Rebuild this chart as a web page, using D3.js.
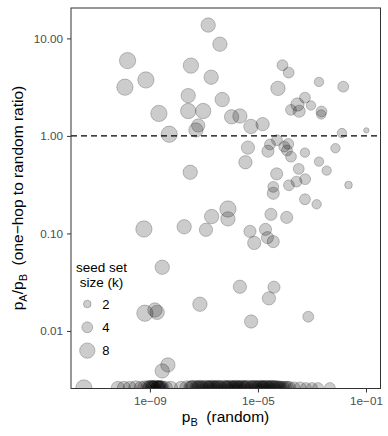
<!DOCTYPE html>
<html>
<head>
<meta charset="utf-8">
<script src="https://cdn.jsdelivr.net/npm/d3@7"></script>
<style>
  body { margin: 0; background: #fff; }
  text { font-family: "Liberation Sans", Arial, sans-serif; white-space: pre; }
</style>
</head>
<body>
<svg id="chart" width="388" height="436"></svg>
<script>
// points with a non-zero one-hop / random ratio
const pB = [
  1.44e-7, 3.9e-7, 1.49e-10, 3.3e-8, 7.1e-10, 1.19e-10, 1.86e-7, 2.62e-8, 4.76e-7, 2.15e-9,
  2.62e-8, 9.4e-8, 1.06e-6, 6.15e-8, 5.06e-8, 2.15e-6, 5.5e-6, 1.49e-5, 5.19e-9, 3.11e-8,
  8.07e-5, 1.37e-4, 5.5e-5, 1.82e-3, 1.44e-2, 5.5e-4, 2.9e-4, 1.67e-4, 3.36e-4, 9.18e-4,
  2.25e-3, 2.2e-3, 1.29e-2, 1.03e-1, 4.27e-6, 3.44e-6, 2.34e-5, 2.78e-5, 5.06e-5, 9.42e-5,
  1.33e-4, 1.19e-4, 1.67e-4, 5.5e-4, 7.41e-3, 1.82e-3, 3.5e-3, 3.24e-4, 4.93e-5, 5.6e-4,
  2.67e-4, 1.41e-4, 3.69e-5, 3.69e-5, 2.25e-2, 5.5e-4, 1.49e-3, 7.74e-7, 1.93e-7, 7.74e-7,
  3.03e-5, 1.16e-4, 5.06e-6, 1.9e-5, 2.25e-5, 3.69e-5, 7.29e-6, 1.19e-7, 1.86e-8, 6.0e-10,
  2.86e-9, 2.15e-6, 3.92e-5, 2.55e-5, 7.11e-8, 5.6e-6, 7.29e-4, 6.53e-10, 1.53e-9, 1.86e-9,
  4.64e-9, 2.86e-9
];
const ratio = [
  13.7, 8.72, 5.92, 5.26, 3.75, 3.16, 4.0, 2.59, 2.36, 1.70,
  1.80, 1.80, 1.57, 1.28, 1.15, 1.60, 1.25, 1.32, 1.04, 0.424,
  5.31, 4.46, 3.07, 3.58, 3.2, 2.47, 2.10, 1.85, 1.79, 2.05,
  1.78, 1.66, 1.07, 1.14, 0.759, 0.537, 0.697, 0.818, 0.903, 0.777,
  0.828, 0.710, 0.613, 0.674, 0.748, 0.545, 0.441, 0.459, 0.408, 0.360,
  0.340, 0.312, 0.300, 0.258, 0.314, 0.224, 0.199, 0.178, 0.149, 0.141,
  0.157, 0.146, 0.105, 0.110, 0.0906, 0.0824, 0.0799, 0.109, 0.117, 0.111,
  0.045, 0.0284, 0.0281, 0.0216, 0.0188, 0.0125, 0.0140, 0.0152, 0.0164, 0.0155,
  0.00448, 0.00389
];
const seedK = [
  7, 7, 9, 8, 9, 9, 7, 7, 7, 9,
  8, 8, 7, 6, 7, 7, 7, 6, 9, 7,
  4, 4, 7, 3, 4, 4, 6, 4, 5, 3,
  4, 3, 3, 1, 6, 6, 5, 4, 4, 4,
  4, 4, 4, 3, 3, 3, 3, 4, 5, 4,
  4, 4, 4, 5, 2, 4, 3, 9, 7, 7,
  5, 5, 5, 5, 5, 5, 6, 6, 7, 9,
  7, 6, 5, 6, 7, 6, 4, 9, 7, 7,
  7, 7
];

// points whose ratio is zero (drawn on the bottom edge)
const zeroPB = [
  3.6e-12, 6.5e-11, 1.09e-10, 1.8e-10, 3.0e-10, 4.6e-10, 6.5e-10, 8.4e-10, 1.09e-9, 1.29e-9,
  1.67e-9, 2.15e-9, 2.78e-9, 3.9e-9, 6.0e-9, 1.41e-8, 2.34e-8, 3.3e-8, 4.27e-8, 5.5e-8,
  7.1e-8, 9.2e-8, 1.19e-7, 1.53e-7, 1.98e-7, 2.55e-7, 3.3e-7, 4.27e-7, 5.5e-7, 7.1e-7,
  9.2e-7, 1.19e-6, 1.53e-6, 1.98e-6, 2.55e-6, 3.3e-6, 4.27e-6, 5.5e-6, 7.1e-6, 9.2e-6,
  1.19e-5, 1.53e-5, 1.98e-5, 2.55e-5, 3.3e-5, 4.27e-5, 5.5e-5, 7.1e-5, 1.0e-4, 1.41e-4,
  2.15e-4, 3.6e-4, 6.0e-4, 1.0e-3, 1.67e-3, 4.6e-3, 1.2e-9, 1.9e-9, 2.5e-9, 6.2e-8,
  1.7e-7, 2.9e-7, 6.3e-7, 1.4e-6, 2.9e-6, 6.3e-6, 1.4e-5, 2.9e-5, 6.3e-5, 1.0e-9,
  1.4e-9, 2.0e-9, 2.4e-9, 3.6e-8, 8.0e-8, 1.3e-7, 2.2e-7, 3.7e-7, 8.0e-7, 1.1e-6,
  1.7e-6, 2.2e-6, 3.7e-6, 8.0e-6, 1.1e-5, 1.7e-5, 2.2e-5, 3.7e-5, 4.8e-5, 8.4e-5,
  1.2e-4
];
const zeroK = [
  9, 6, 6, 6, 7, 6, 7, 7, 8, 7,
  8, 7, 7, 6, 6, 6, 7, 7, 8, 7,
  8, 7, 8, 7, 8, 7, 8, 7, 8, 7,
  8, 7, 8, 7, 8, 7, 8, 7, 8, 7,
  8, 7, 8, 7, 8, 7, 7, 6, 6, 6,
  5, 5, 4, 4, 4, 4, 7, 7, 7, 7,
  7, 7, 7, 7, 7, 7, 7, 7, 6, 7,
  7, 7, 7, 7, 7, 7, 7, 7, 7, 7,
  7, 7, 7, 7, 7, 7, 7, 7, 7, 6,
  6
];

const xTicks = [1e-9, 1e-5, 1e-1];
const yTicks = [0.01, 0.1, 1, 10];
const legendK = [2, 4, 8];

const width = 388, height = 436;
const margin = { top: 8, right: 8, bottom: 48, left: 71 };
const panelL = margin.left, panelR = width - margin.right;
const panelT = margin.top, panelB = height - margin.bottom;

const svg = d3.select("#chart");

const x = d3.scaleLog().domain([1.2e-12, 0.33]).range([panelL, panelR]);
const y = d3.scaleLog().domain([0.0026, 20.5]).range([panelB, panelT]);
const r = d3.scaleSqrt().domain([0, 10]).range([0, 8.6]);

const fillCol = "rgba(0,0,0,0.2)";
const strokeCol = "rgba(0,0,0,0.22)";

svg.append("defs").append("clipPath").attr("id", "panel")
  .append("rect")
  .attr("x", panelL).attr("y", panelT)
  .attr("width", panelR - panelL).attr("height", panelB - panelT);

const plot = svg.append("g").attr("clip-path", "url(#panel)");

// zero-ratio points sit on the lower edge of the panel
plot.selectAll(".zero")
  .data(zeroPB.map((v, i) => ({ p: v, k: zeroK[i] })))
  .enter().append("circle")
  .attr("class", "zero")
  .attr("cx", d => x(d.p))
  .attr("cy", y.range()[0])
  .attr("r", d => r(d.k))
  .style("fill", fillCol)
  .style("stroke", strokeCol);

plot.selectAll(".dot")
  .data(pB.map((v, i) => ({ p: v, q: ratio[i], k: seedK[i] })))
  .enter().append("circle")
  .attr("class", "dot")
  .attr("cx", d => x(d.p))
  .attr("cy", d => y(d.q))
  .attr("r", d => r(d.k))
  .style("fill", fillCol)
  .style("stroke", strokeCol);

// reference line at ratio = 1
svg.append("line")
  .attr("x1", panelL).attr("x2", panelR)
  .attr("y1", y(1)).attr("y2", y(1))
  .style("stroke", "#000")
  .style("stroke-width", 1.4)
  .style("stroke-dasharray", "6,4");

// panel border
svg.append("rect")
  .attr("x", panelL).attr("y", panelT)
  .attr("width", panelR - panelL + 0.5).attr("height", panelB - panelT + 0.5)
  .style("fill", "none")
  .style("stroke", "#333")
  .style("stroke-width", 1);

// axes
const fmtX = d => "1e\u2212" + String(-Math.round(Math.log10(d))).padStart(2, "0");

const gx = svg.append("g")
  .attr("transform", `translate(0,${panelB + 0.5})`)
  .call(d3.axisBottom(x).tickValues(xTicks).tickFormat(fmtX).tickSize(4).tickPadding(4));

const gy = svg.append("g")
  .attr("transform", `translate(${panelL},0)`)
  .call(d3.axisLeft(y).tickValues(yTicks).tickFormat(d3.format(".2f")).tickSize(4).tickPadding(4));

[gx, gy].forEach(g => {
  g.select(".domain").remove();
  g.selectAll(".tick line").style("stroke", "#333");
  g.selectAll(".tick text")
    .style("fill", "#4d4d4d")
    .style("font-size", "11.7px")
    .style("font-family", "'Liberation Sans', Arial, sans-serif");
});

// axis titles
const xt = svg.append("text")
  .attr("x", (panelL + panelR) / 2)
  .attr("y", 422)
  .attr("text-anchor", "middle")
  .style("font-size", "15.5px");
xt.append("tspan").text("p");
xt.append("tspan").attr("dy", 4).style("font-size", "11px").text("B");
xt.append("tspan").attr("dy", -4).text("  (random)");

const yt = svg.append("text")
  .attr("transform", `translate(23,${(panelT + panelB) / 2}) rotate(-90)`)
  .attr("text-anchor", "middle")
  .style("font-size", "15.5px");
yt.append("tspan").text("p");
yt.append("tspan").attr("dy", 4).style("font-size", "11px").text("A");
yt.append("tspan").attr("dy", -4).text("/p");
yt.append("tspan").attr("dy", 4).style("font-size", "11px").text("B");
yt.append("tspan").attr("dy", -4).text("  (one\u2212hop to random ratio)");

// legend
const legend = svg.append("g").attr("transform", "translate(101.5,272)");
legend.selectAll(".ltitle")
  .data(["seed set", "size (k)"])
  .enter().append("text")
  .attr("class", "ltitle")
  .attr("y", (d, i) => i * 14.5)
  .attr("text-anchor", "middle")
  .style("font-size", "13.5px")
  .text(d => d);

const keys = legend.selectAll(".key")
  .data(legendK)
  .enter().append("g")
  .attr("class", "key")
  .attr("transform", (d, i) => `translate(-14.2,${32 + i * 23.3})`);
keys.append("circle")
  .attr("r", d => r(d))
  .style("fill", fillCol)
  .style("stroke", strokeCol);
keys.append("text")
  .attr("x", 15)
  .attr("dy", "0.35em")
  .style("font-size", "13px")
  .text(d => d);
</script>
</body>
</html>
